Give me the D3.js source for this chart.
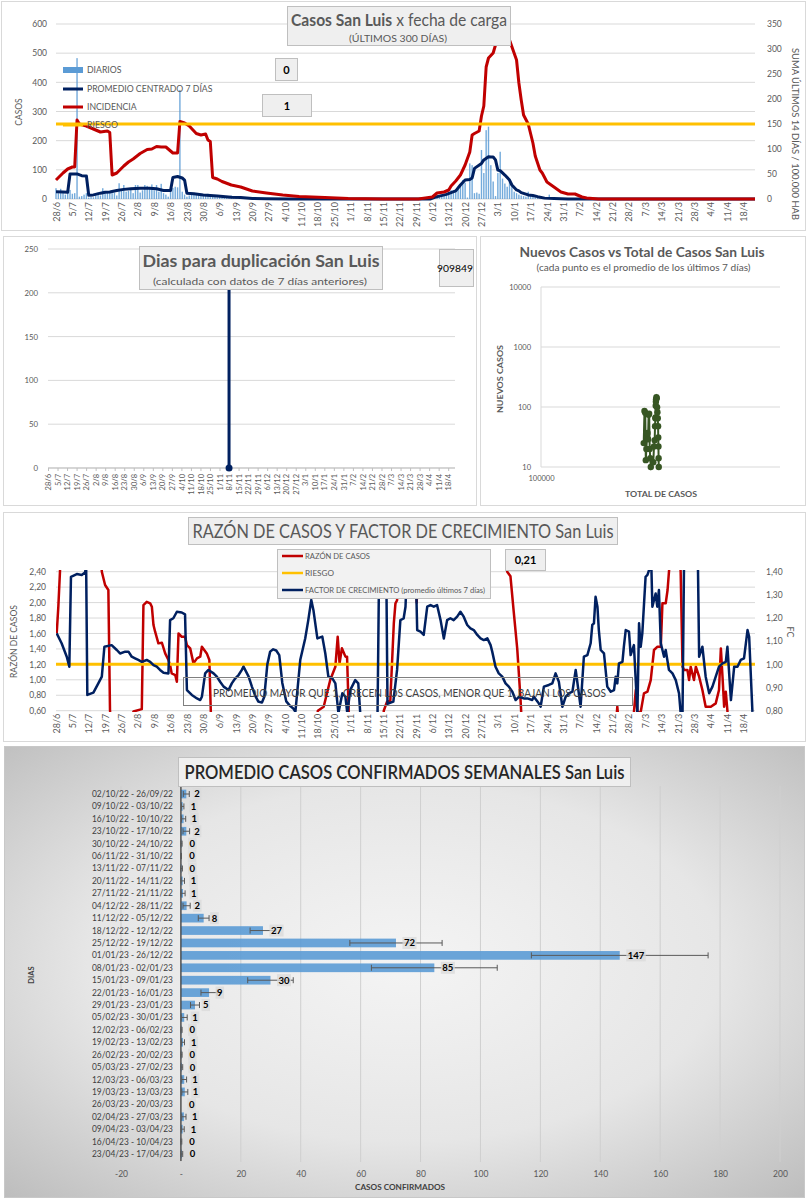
<!DOCTYPE html>
<html><head><meta charset="utf-8">
<script src="https://cdn.jsdelivr.net/npm/d3@7"></script>
<style>body{margin:0;background:#fff}svg{display:block}</style>
</head><body>
<svg id="c" width="807" height="1200"></svg>
<script>
// ---------------- DATA ----------------
const dateLabels = ["28/6","5/7","12/7","19/7","26/7","2/8","9/8","16/8","23/8","30/8","6/9","13/9","20/9","27/9","4/10","11/10","18/10","25/10","1/11","8/11","15/11","22/11","29/11","6/12","13/12","20/12","27/12","3/1","10/1","17/1","24/1","31/1","7/2","14/2","21/2","28/2","7/3","14/3","21/3","28/3","4/4","11/4","18/4"];
const topLeftTicks = [0,100,200,300,400,500,600];
const topRightTicks = [0,50,100,150,200,250,300,350];
const topLegend = ["DIARIOS","PROMEDIO CENTRADO 7 DÍAS","INCIDENCIA","RIESGO"];
// [day since 28/6, cases]
const diarios = [[0,37],[1,20],[2,35],[3,25],[4,15],[5,30],[6,31],[7,18],[8,20],[9,483],[10,8],[11,10],[12,15],[13,20],[14,5],[15,8],[16,6],[17,15],[18,22],[19,12],[20,37],[21,20],[22,25],[23,22],[24,20],[25,22],[26,12],[27,54],[28,30],[29,48],[30,25],[31,28],[32,35],[33,20],[34,48],[35,48],[36,22],[37,30],[38,48],[39,45],[40,35],[41,50],[42,30],[43,48],[44,25],[45,52],[46,20],[47,15],[48,8],[49,25],[50,38],[51,42],[52,40],[53,374],[54,25],[55,15],[56,8],[57,12],[58,15],[59,18],[60,14],[61,15],[62,18],[63,14],[64,12],[65,18],[66,10],[67,8],[68,8],[69,6],[70,8],[71,5],[72,4],[73,6],[74,4],[75,12],[76,3],[77,5],
[160,2],[161,3],[162,5],[163,8],[164,10],[165,12],[166,14],[167,20],[168,25],[169,30],[170,28],[171,25],[172,40],[173,48],[174,65],[175,56],[176,5],[177,122],[178,116],[179,20],[180,22],[181,18],[182,168],[183,89],[184,236],[185,248],[186,116],[187,60],[188,10],[189,89],[190,162],[191,70],[192,53],[193,42],[194,60],[195,45],[196,25],[197,20],[198,15],[199,12],[200,10],[201,8],[202,25],[203,15],[204,8],[205,6],[206,5],[207,4],[208,3],[209,3],[210,4],[211,15],[212,3],[213,2]];
const promedio = [[0,25],[3,24],[5,23],[6,86],[9,86],[11,80],[13,79],[14,13],[16,14],[19,20],[21,23],[23,24],[26,29],[29,33],[32,35],[36,37],[40,37],[43,35],[46,29],[49,29],[50,74],[52,77],[54,72],[55,65],[56,20],[59,18],[63,14],[69,10],[75,6],[79,5],[84,2],[90,1],[100,0],[160,0],[162,6],[164,10],[167,16],[169,22],[171,28],[173,48],[175,65],[177,67],[178,72],[179,105],[182,122],[183,134],[185,145],[186,144],[187,144],[188,134],[189,99],[190,97],[192,82],[194,65],[195,48],[197,31],[198,28],[199,22],[202,14],[204,12],[206,8],[209,3],[213,2],[219,0],[299,0]];
const incidencia = [[0,38],[3,52],[5,60],[7,64],[8,64],[9,158],[10,150],[13,146],[16,140],[19,134],[22,136],[23,133],[24,48],[26,52],[29,66],[31,74],[33,80],[36,91],[39,99],[41,100],[43,105],[45,104],[47,104],[48,100],[50,92],[52,92],[53,155],[55,152],[57,146],[60,131],[62,128],[64,130],[65,118],[66,115],[67,43],[69,40],[71,35],[75,28],[79,24],[84,16],[90,12],[97,8],[104,5],[115,3],[125,1],[140,0],[155,0],[161,4],[163,12],[166,14],[168,18],[169,26],[171,36],[173,48],[175,68],[177,94],[178,128],[179,131],[181,136],[182,166],[183,186],[184,264],[185,282],[187,292],[188,308],[190,325],[192,338],[194,318],[197,278],[198,232],[199,198],[200,168],[202,150],[204,112],[205,86],[207,58],[208,52],[210,34],[213,24],[216,14],[219,10],[222,10],[225,4],[227,2],[232,0],[299,0]];
const riesgoIncidencia = 150;
const boxCero = "0";
const boxUno = "1";

const dupTicks = [0,50,100,150,200,250];
const duplicacion = [[133,0],[134,909849]];
const dupUltimo = "909849";

const scatterTicks = [10,100,1000,10000];
const scatterTotal = [269000,271000,273000,274500,276000,277500,279000,280500,282000,283500,285000,286500,288000,295000,297000,299000,300000,301000,301500,302000,302500,303000,304000,305000,306000,307000,308000,309000,309500,310000,310500,311000];
const scatterNuevos = [25,86,80,13,20,30,37,29,74,77,20,14,10,12,22,28,48,65,67,105,122,134,145,140,99,82,65,48,31,22,14,10];

const razonTicks = [0.6,0.8,1.0,1.2,1.4,1.6,1.8,2.0,2.2,2.4];
const fcTicks = [0.8,0.9,1.0,1.1,1.2,1.3,1.4];
const razonRiesgo = 1.2;
const razonUltimo = "0,21";
const razonLegend = ["RAZÓN DE CASOS","RIESGO","FACTOR DE CRECIMIENTO (promedio últimos 7 días)"];
const razon = [[0.3,1.60],[1,1.947],[1.7,2.40],[2.2,2.8],[19,2.8],[19.6,2.40],[21,2.227],[22.4,2.163],[23.1,0.609],[23.5,0.4],[32.8,0.4],[33.1,0.59],[36.7,0.62],[37.4,1.968],[38.8,2.01],[40.3,1.99],[41,1.947],[41.7,1.709],[42.4,1.623],[43.8,1.472],[45.3,1.48],[46.7,1.342],[48.1,1.256],[48.8,1.191],[49.5,1.083],[51,1.062],[51.7,0.976],[52.4,1.60],[53.8,1.557],[55.2,1.557],[56,1.45],[57.4,1.407],[58.8,1.213],[60.3,1.278],[61.7,1.299],[62.4,1.429],[64.5,1.342],[65.6,1.256],[66.2,0.609],[66.5,0.4],[111.5,0.4],[112,0.6],[114.5,0.652],[117.3,0.997],[119.5,1.17],[120.5,1.558],[121.3,1.213],[122.3,1.41],[123.8,1.30],[124.5,1.30],[125.2,0.6],[125.5,0.4],[140,0.4],[140.2,0.6],[141.6,0.717],[143,0.727],[144.5,1.73],[145.2,1.99],[145.9,2.03],[146.5,2.6],[153.8,2.6],[154.3,2.0],[154.9,2.6],[192.5,2.6],[193,2.40],[194.4,2.34],[195.8,1.88],[197.3,1.40],[198.7,0.75],[199.3,0.4],[239.5,0.4],[240.1,0.652],[240.8,0.4],[247,0.4],[247.2,0.58],[248,0.868],[248.7,0.58],[250.1,0.58],[251.5,0.824],[253,0.846],[254.4,0.997],[255.8,1.386],[257.3,1.429],[258.7,1.429],[259.4,1.99],[260.8,1.99],[261.6,2.163],[262.2,2.40],[262.8,2.6],[266.8,2.6],[267.2,2.40],[268,1.17],[268.7,1.127],[270.1,1.127],[270.8,0.997],[271.5,1.17],[272.9,0.997],[273.7,1.17],[275.1,1.04],[276.5,0.868],[277.9,0.652],[280.1,0.652],[282.2,0.695],[283.6,0.868],[284.4,1.407],[285.1,1.04],[285.8,0.652],[286.5,0.846],[287.2,0.6],[287.6,0.4]];
const factor = [[0.3,1.134],[2.4,1.091],[4.6,1.033],[5.7,0.99],[6.4,1.378],[8.9,1.39],[11,1.386],[12.4,1.397],[12.9,1.42],[13.4,0.868],[16,0.878],[18.1,0.918],[19.6,0.947],[20.7,1.076],[23.8,1.083],[26,1.062],[27.4,1.047],[29.6,1.055],[31,1.055],[32.4,1.033],[33.8,1.026],[35.2,1.019],[36.7,1.011],[38.8,1.019],[40.3,1.011],[41.7,0.997],[43.1,0.99],[44.5,0.976],[46,0.964],[48.1,0.961],[48.8,1.191],[50.2,1.199],[51.7,1.227],[53.8,1.224],[55.2,1.216],[56,0.889],[58.1,0.868],[60.3,0.853],[61.7,0.846],[62.4,0.86],[63.8,0.961],[65.2,0.976],[67.4,0.961],[68.8,0.947],[70.2,0.925],[71.7,0.904],[73.8,0.889],[75.2,0.918],[76.7,0.94],[78.1,0.954],[79.5,0.976],[80.2,0.99],[82.4,0.947],[83.8,0.904],[85.2,0.865],[86.5,0.84],[88.1,0.835],[89.1,0.86],[90.4,1.0],[91.6,1.055],[92.9,1.065],[94.2,1.06],[95.5,1.04],[96.8,0.92],[98.5,0.84],[100.2,0.82],[101.5,0.81],[102.4,0.795],[104.5,1.02],[106.6,1.112],[107.9,1.19],[109.2,1.278],[110.1,1.235],[111.8,1.112],[113.9,1.12],[115.2,1.047],[116.5,0.947],[118.2,0.94],[119.5,0.918],[120.8,0.79],[122.5,0.875],[123.8,0.86],[124.6,0.79],[125.9,0.89],[128,0.932],[129.3,0.918],[130.2,0.78],[134,0.7],[137.5,0.75],[138.3,1.5],[141.2,1.5],[141.8,0.83],[144.3,0.839],[145.9,0.976],[147.3,1.191],[148.7,1.198],[149.5,1.249],[150.2,1.42],[153.8,1.45],[154.5,1.148],[155.9,1.141],[157.3,1.127],[158.8,1.249],[160.2,1.256],[161.6,1.249],[163,1.256],[164.5,1.191],[165.9,1.112],[167.3,1.191],[168.7,1.199],[170.1,1.191],[171.6,1.206],[173,1.227],[174.4,1.206],[175.9,1.17],[177.3,1.155],[178.7,1.148],[180.2,1.127],[181.6,1.112],[183,1.105],[184.5,1.112],[185.9,1.083],[186.6,1.055],[188,0.99],[189.4,0.961],[190.9,0.947],[192.3,0.918],[193.7,0.904],[195.2,0.882],[196.6,0.846],[198,0.86],[200.1,0.853],[201.6,0.853],[203.7,0.846],[204.4,0.86],[206.5,0.832],[207.3,0.817],[208.7,0.904],[210.8,0.911],[212.3,0.918],[213.7,0.961],[215.1,0.925],[216.6,0.817],[218,0.86],[219.4,0.875],[220.9,0.882],[222.3,0.976],[224.4,0.817],[225.8,1.033],[227.3,1.04],[228.7,1.091],[229.4,1.17],[230.1,1.177],[230.8,1.292],[231.6,1.249],[232.2,1.148],[233,1.062],[234.4,1.047],[235.8,0.904],[237.3,0.882],[238.7,0.889],[239.4,0.947],[240.1,0.918],[240.8,1.004],[242.3,1.011],[242.9,1.076],[243.7,1.148],[245.1,1.141],[245.8,1.04],[247.2,1.083],[248.7,0.79],[249.4,1.177],[250.1,1.076],[250.8,1.134],[252.2,1.378],[253,1.386],[254.1,1.42],[254.6,1.45],[255.1,1.249],[256.5,1.306],[257.2,1.249],[257.9,1.321],[258.7,1.091],[260.1,1.033],[260.8,1.062],[262.2,0.976],[263.7,0.961],[265.1,0.932],[266.5,0.875],[267.2,0.79],[268,0.79],[268.7,1.5],[274.5,1.5],[275.1,1.033],[276.5,1.076],[277.9,0.947],[279.4,0.875],[280.8,0.904],[282.2,0.947],[283.6,0.99],[285.1,1.004],[286.5,1.011],[287.2,1.076],[288.7,0.846],[290.1,0.99],[291.5,0.99],[292.9,1.019],[294.3,1.026],[295.8,1.148],[296.5,1.119],[297.9,0.795]];

const semanas = ["02/10/22 - 26/09/22","09/10/22 - 03/10/22","16/10/22 - 10/10/22","23/10/22 - 17/10/22","30/10/22 - 24/10/22","06/11/22 - 31/10/22","13/11/22 - 07/11/22","20/11/22 - 14/11/22","27/11/22 - 21/11/22","04/12/22 - 28/11/22","11/12/22 - 05/12/22","18/12/22 - 12/12/22","25/12/22 - 19/12/22","01/01/23 - 26/12/22","08/01/23 - 02/01/23","15/01/23 - 09/01/23","22/01/23 - 16/01/23","29/01/23 - 23/01/23","05/02/23 - 30/01/23","12/02/23 - 06/02/23","19/02/23 - 13/02/23","26/02/23 - 20/02/23","05/03/23 - 27/02/23","12/03/23 - 06/03/23","19/03/23 - 13/03/23","26/03/23 - 20/03/23","02/04/23 - 27/03/23","09/04/23 - 03/04/23","16/04/23 - 10/04/23","23/04/23 - 17/04/23"];
const promedioSemanal = [1.8,0.6,0.9,1.8,0.2,0.1,0.2,0.6,0.7,1.9,7.6,27.4,71.8,146.5,84.6,29.9,9.4,4.7,1.1,0.2,0.7,0.2,0.3,1.1,1.3,0.0,1.0,0.6,0.1,0.3];
const errorSemanal = [1.0,0.4,0.7,1.1,0.2,0.1,0.3,0.6,0.7,1.2,1.8,4.3,15.4,29.5,21.0,7.6,2.7,1.5,1.0,0.2,0.5,0.2,0.3,0.8,1.0,0.0,0.7,0.5,0.2,0.3];
const casosTicks = [-20,0,20,40,60,80,100,120,140,160,180,200];

// ---------------- HELPERS ----------------
const svg = d3.select("#c");
const FONT = "Lato, 'Open Sans', 'Liberation Sans', sans-serif";
const GREY = "#595959";
const NAVY = "#002060", RED = "#c00000", ORANGE = "#ffc000", BLUE = "#5b9bd5";
const comma = f => v => d3.format(f)(v).replace(".", ",");

function txt(g, x, y, s, o = {}) {
  const t = g.append("text").attr("x", x).attr("y", y).text(s)
    .style("font-family", FONT).style("font-size", (o.size || 9) + "px")
    .style("fill", o.fill || GREY).style("font-weight", o.weight || "normal")
    .attr("text-anchor", o.anchor || "start");
  if (o.rotate) t.attr("transform", `rotate(${o.rotate},${x},${y})`);
  if (o.len) t.attr("textLength", o.len).attr("lengthAdjust", "spacingAndGlyphs");
  return t;
}
function box(g, x, y, w, h, fill, stroke) {
  return g.append("rect").attr("x", x).attr("y", y).attr("width", w).attr("height", h)
    .attr("fill", fill || "#efefef").attr("stroke", stroke || "#bfbfbf").attr("stroke-width", 1);
}
function styleAxis(ax, size) {
  ax.select(".domain").remove();
  ax.selectAll("text").style("font-family", FONT).style("font-size", size + "px").style("fill", GREY);
}
function dateAxis(g, x, y, size, tick) {
  const ax = g.append("g").attr("transform", `translate(0,${y})`)
    .call(d3.axisBottom(x).tickValues(dateLabels.map((d, i) => i * 7))
      .tickFormat((d, i) => dateLabels[i]).tickSize(tick).tickSizeOuter(0));
  ax.select(".domain").remove();
  ax.selectAll("line").attr("stroke", "#bfbfbf");
  ax.selectAll("text").attr("transform", "rotate(-90)").attr("x", -(tick + 3)).attr("y", 0)
    .attr("dy", "0.35em").style("text-anchor", "end")
    .style("font-family", FONT).style("font-size", size + "px").style("fill", GREY);
  return ax;
}
function hGrid(g, vals, y, x0, x1, color) {
  g.append("g").selectAll("line").data(vals).join("line")
    .attr("x1", x0).attr("x2", x1).attr("y1", d => y(d)).attr("y2", d => y(d))
    .attr("stroke", color || "#d9d9d9").attr("stroke-width", 1);
}
const defs = svg.append("defs");
function clip(id, x, y, w, h) {
  defs.append("clipPath").attr("id", id).append("rect").attr("x", x).attr("y", y).attr("width", w).attr("height", h);
  return `url(#${id})`;
}

// ---------------- PANEL FRAMES ----------------
const rg = defs.append("radialGradient").attr("id", "bg5").attr("cx", "50%").attr("cy", "48%").attr("r", "72%");
rg.append("stop").attr("offset", "0%").attr("stop-color", "#f4f4f4");
rg.append("stop").attr("offset", "55%").attr("stop-color", "#e6e6e6");
rg.append("stop").attr("offset", "100%").attr("stop-color", "#bdbdbd");
box(svg, 1.5, 1.5, 804, 229, "#fff", "#d9d9d9");
box(svg, 3.5, 236.5, 473, 269, "#fff", "#d9d9d9");
box(svg, 480.5, 236.5, 325, 269, "#fff", "#d9d9d9");
box(svg, 3.5, 512.5, 802, 229, "#fff", "#d9d9d9");
box(svg, 4.5, 746.5, 800, 451, "url(#bg5)", "#c8c8c8");

// ---------------- PANEL 1: Casos ----------------
{
  const g = svg.append("g");
  const x = d3.scaleLinear().domain([0, 299]).range([56, 755]);
  const yL = d3.scaleLinear().domain([0, 600]).range([199, 24]);
  const yR = d3.scaleLinear().domain([0, 350]).range([199, 24]);
  hGrid(g, topLeftTicks, yL, 56, 755);
  styleAxis(g.append("g").attr("transform", "translate(56,0)")
    .call(d3.axisLeft(yL).tickValues(topLeftTicks).tickSize(0).tickPadding(9)), 8.5);
  styleAxis(g.append("g").attr("transform", "translate(755,0)")
    .call(d3.axisRight(yR).tickValues(topRightTicks).tickSize(0).tickPadding(12)), 8.5);
  dateAxis(g, x, 199, 9, 0);
  g.append("g").selectAll("rect").data(diarios).join("rect")
    .attr("x", d => x(d[0]) - 0.7).attr("width", 1.4)
    .attr("y", d => yL(d[1])).attr("height", d => yL(0) - yL(d[1]))
    .attr("fill", BLUE).attr("opacity", 0.85);
  g.append("path").datum(promedio).attr("fill", "none").attr("stroke", NAVY).attr("stroke-width", 3)
    .attr("stroke-linejoin", "round").attr("d", d3.line().x(d => x(d[0])).y(d => yL(d[1])));
  g.append("path").datum(incidencia).attr("fill", "none").attr("stroke", RED).attr("stroke-width", 3)
    .attr("stroke-linejoin", "round").attr("d", d3.line().x(d => x(d[0])).y(d => yR(d[1])));
  g.append("line").attr("x1", 56).attr("x2", 755).attr("y1", yR(riesgoIncidencia)).attr("y2", yR(riesgoIncidencia))
    .attr("stroke", ORANGE).attr("stroke-width", 3);
  // legend
  const ly = [70, 89, 107, 125];
  g.append("rect").attr("x", 63).attr("y", ly[0] - 3).attr("width", 20).attr("height", 6).attr("fill", BLUE);
  [NAVY, RED, ORANGE].forEach((c, i) => g.append("line").attr("x1", 63).attr("x2", 83)
    .attr("y1", ly[i + 1]).attr("y2", ly[i + 1]).attr("stroke", c).attr("stroke-width", 3));
  topLegend.forEach((s, i) => txt(g, 87, ly[i] + 3.2, s, { size: 8.7 }));
  txt(g, 22, 112, "CASOS", { size: 8.5, anchor: "middle", rotate: -90 });
  txt(g, 792, 134, "SUMA  ÚLTIMOS 14 DÍAS / 100.000 HAB", { size: 9, anchor: "middle", rotate: 90, len: 172 });
  box(g, 275.5, 58.5, 22, 22);
  txt(g, 286.5, 73.5, boxCero, { size: 11, weight: "bold", fill: "#000", anchor: "middle" });
  box(g, 262.5, 94.5, 49, 22);
  txt(g, 287, 109.5, boxUno, { size: 11, weight: "bold", fill: "#000", anchor: "middle" });
  box(g, 287.5, 6.5, 223, 39);
  const t = txt(g, 399, 26, "", { size: 17, anchor: "middle", len: 216 });
  t.append("tspan").style("font-weight", "bold").text("Casos San Luis");
  t.append("tspan").text(" x fecha de carga");
  txt(g, 398, 41.5, "(ÚLTIMOS 300 DÍAS)", { size: 10, anchor: "middle", len: 98 });
}

// ---------------- PANEL 2: Duplicación ----------------
{
  const g = svg.append("g");
  const x = d3.scaleLinear().domain([0, 299]).range([48, 455]);
  const y = d3.scaleLinear().domain([0, 250]).range([468, 249]);
  hGrid(g, dupTicks, y, 48, 455);
  styleAxis(g.append("g").attr("transform", "translate(48,0)")
    .call(d3.axisLeft(y).tickValues(dupTicks).tickSize(0).tickPadding(10)), 7.8);
  g.append("line").attr("x1", 48).attr("x2", 455).attr("y1", 468).attr("y2", 468).attr("stroke", "#bfbfbf");
  dateAxis(g, x, 468, 7.5, 3);
  const cp = clip("dupclip", 48, 249, 407, 222);
  g.append("path").datum(duplicacion).attr("clip-path", cp).attr("fill", "none").attr("stroke", NAVY)
    .attr("stroke-width", 3).attr("d", d3.line().x(d => x(d[0])).y(d => y(d[1])));
  g.append("circle").attr("cx", x(duplicacion[0][0])).attr("cy", y(duplicacion[0][1])).attr("r", 3.5).attr("fill", NAVY);
  box(g, 139.5, 246.5, 243, 43);
  txt(g, 261, 267, "Dias para duplicación San Luis", { size: 17, weight: "bold", anchor: "middle", len: 237 });
  txt(g, 260, 284.5, "(calculada con datos de 7 días anteriores)", { size: 10, anchor: "middle", len: 214 });
  box(g, 439.5, 249.5, 34, 37);
  txt(g, 455, 271.5, dupUltimo, { size: 10.3, fill: "#000", anchor: "middle" });
}

// ---------------- PANEL 3: Nuevos vs Total ----------------
{
  const g = svg.append("g");
  const x = d3.scaleLog().domain([1e5, 1e6]).range([541, 780]);
  const y = d3.scaleLog().domain([10, 10000]).range([467, 287]);
  hGrid(g, scatterTicks, y, 541, 780);
  g.append("line").attr("x1", 541).attr("x2", 541).attr("y1", 287).attr("y2", 467).attr("stroke", "#d9d9d9");
  styleAxis(g.append("g").attr("transform", "translate(541,0)")
    .call(d3.axisLeft(y).tickValues(scatterTicks).tickFormat(d3.format("d")).tickSize(0).tickPadding(10)), 7.5);
  styleAxis(g.append("g").attr("transform", "translate(0,467)")
    .call(d3.axisBottom(x).tickValues([1e5]).tickFormat(d3.format("d")).tickSize(0).tickPadding(9)), 7.5);
  const pts = scatterTotal.map((t, i) => [t, scatterNuevos[i]]);
  g.append("path").datum(pts).attr("fill", "none").attr("stroke", "#375623").attr("stroke-width", 2)
    .attr("d", d3.line().x(d => x(d[0])).y(d => y(d[1])));
  g.append("g").selectAll("circle").data(pts).join("circle")
    .attr("cx", d => x(d[0])).attr("cy", d => y(d[1])).attr("r", 3.2).attr("fill", "#375623");
  txt(g, 642, 256.5, "Nuevos Casos vs Total de Casos San Luis", { size: 13, weight: "bold", anchor: "middle", len: 245 });
  txt(g, 643.5, 270.5, "(cada punto es el promedio de los últimos 7 días)", { size: 9, anchor: "middle", len: 214 });
  txt(g, 661, 497, "TOTAL DE CASOS", { size: 8, weight: "bold", anchor: "middle", len: 72 });
  txt(g, 503, 379, "NUEVOS CASOS", { size: 8, weight: "bold", anchor: "middle", rotate: -90, len: 68 });
}

// ---------------- PANEL 4: Razón / Factor ----------------
{
  const g = svg.append("g");
  const x = d3.scaleLinear().domain([0, 299]).range([56, 755]);
  const yL = d3.scaleLinear().domain([0.6, 2.4]).range([710.7, 571.7]);
  const yR = d3.scaleLinear().domain([0.8, 1.4]).range([710.7, 571.7]);
  hGrid(g, razonTicks, yL, 56, 755);
  styleAxis(g.append("g").attr("transform", "translate(56,0)")
    .call(d3.axisLeft(yL).tickValues(razonTicks).tickFormat(comma(".2f")).tickSize(0).tickPadding(10)), 8.5);
  styleAxis(g.append("g").attr("transform", "translate(755,0)")
    .call(d3.axisRight(yR).tickValues(fcTicks).tickFormat(comma(".2f")).tickSize(0).tickPadding(11)), 8.5);
  dateAxis(g, x, 710.7, 9, 0);
  const cp = clip("rzclip", 56, 570, 699, 142);
  g.append("path").datum(razon).attr("clip-path", cp).attr("fill", "none").attr("stroke", RED).attr("stroke-width", 2.5)
    .attr("stroke-linejoin", "round").attr("d", d3.line().x(d => x(d[0])).y(d => yL(d[1])));
  g.append("line").attr("x1", 56).attr("x2", 755).attr("y1", yL(razonRiesgo)).attr("y2", yL(razonRiesgo))
    .attr("stroke", ORANGE).attr("stroke-width", 3);
  g.append("path").datum(factor).attr("clip-path", cp).attr("fill", "none").attr("stroke", NAVY).attr("stroke-width", 2.5)
    .attr("stroke-linejoin", "round").attr("d", d3.line().x(d => x(d[0])).y(d => yR(d[1])));
  // note box
  g.append("rect").attr("x", 183.5).attr("y", 677.5).attr("width", 449).attr("height", 28)
    .attr("fill", "none").attr("stroke", "#7f7f7f");
  txt(g, 213, 697, "PROMEDIO MAYOR QUE 1, CRECEN LOS CASOS, MENOR QUE 1, BAJAN LOS CASOS", { size: 11.5, fill: "#404040", len: 393 });
  // legend
  box(g, 277.5, 549.5, 213, 49, "#f2f2f2");
  const ly = [556, 573, 590];
  [RED, ORANGE, NAVY].forEach((c, i) => g.append("line").attr("x1", 282).attr("x2", 303)
    .attr("y1", ly[i]).attr("y2", ly[i]).attr("stroke", c).attr("stroke-width", 2.5));
  txt(g, 305, ly[0] + 2.5, razonLegend[0], { size: 7.2, len: 65 });
  txt(g, 305, ly[1] + 2.5, razonLegend[1], { size: 7.2, len: 29 });
  txt(g, 305, ly[2] + 2.5, razonLegend[2], { size: 7.2, len: 180 });
  box(g, 505.5, 549.5, 40, 21);
  txt(g, 525.5, 564, razonUltimo, { size: 11, weight: "bold", fill: "#000", anchor: "middle" });
  box(g, 188.5, 517.5, 429, 27);
  txt(g, 403, 537.5, "RAZÓN DE CASOS Y FACTOR DE CRECIMIENTO San Luis", { size: 19, anchor: "middle", len: 421 });
  txt(g, 17, 641.5, "RAZÓN DE CASOS", { size: 9, anchor: "middle", rotate: -90, len: 73 });
  txt(g, 787, 632, "FC", { size: 9, anchor: "middle", rotate: 90 });
}

// ---------------- PANEL 5: Promedio semanal ----------------
{
  const g = svg.append("g");
  const x = d3.scaleLinear().domain([-20, 200]).range([121, 780]);
  const y = d3.scaleBand().domain(semanas).range([787.8, 1160.2]).paddingInner(0.3).paddingOuter(0.15);
  g.append("g").selectAll("line").data(casosTicks).join("line")
    .attr("x1", d => x(d)).attr("x2", d => x(d)).attr("y1", 786).attr("y2", 1162)
    .attr("stroke", "#cfcfcf").attr("stroke-width", 1);
  const ax = g.append("g").attr("transform", "translate(0,1162)")
    .call(d3.axisBottom(x).tickValues(casosTicks).tickFormat(d => d === 0 ? "-" : d).tickSize(0).tickPadding(9));
  styleAxis(ax, 8.5);
  g.append("g").selectAll("text").data(semanas).join("text")
    .attr("x", 173).attr("y", d => y(d) + y.bandwidth() / 2 + 3).attr("text-anchor", "end")
    .attr("textLength", 81).attr("lengthAdjust", "spacingAndGlyphs")
    .style("font-family", FONT).style("font-size", "8.6px").style("fill", "#404040").text(d => d);
  const rows = semanas.map((s, i) => ({ s, v: promedioSemanal[i], e: errorSemanal[i] }));
  g.append("g").selectAll("rect").data(rows).join("rect")
    .attr("x", x(0)).attr("y", d => y(d.s)).attr("height", y.bandwidth())
    .attr("width", d => x(d.v) - x(0)).attr("fill", BLUE).attr("opacity", 0.9);
  g.append("line").attr("x1", x(0)).attr("x2", x(0)).attr("y1", 786).attr("y2", 1161)
    .attr("stroke", "#404040").attr("stroke-width", 1.3);
  const eb = g.append("g").attr("stroke", "#595959").attr("stroke-width", 1);
  rows.forEach(d => {
    if (d.e <= 0) return;
    const cy = y(d.s) + y.bandwidth() / 2;
    eb.append("line").attr("x1", x(d.v - d.e)).attr("x2", x(d.v + d.e)).attr("y1", cy).attr("y2", cy);
    [d.v - d.e, d.v + d.e].forEach(v => eb.append("line").attr("x1", x(v)).attr("x2", x(v)).attr("y1", cy - 3).attr("y2", cy + 3));
  });
  const lg = g.append("g");
  rows.forEach(d => {
    const cy = y(d.s) + y.bandwidth() / 2;
    const bg = lg.append("rect");
    const t = txt(lg, x(d.v) + 8, cy + 3.4, String(Math.round(d.v)), { size: 9.5, weight: "bold", fill: "#000" });
    const w = t.node().getComputedTextLength();
    bg.attr("x", x(d.v) + 6.5).attr("y", cy - 6).attr("width", w + 3).attr("height", 12)
      .attr("fill", "#d9d9d9").attr("opacity", 0.75);
  });
  box(g, 178.5, 757.5, 452, 29, "#efefef", "#bfbfbf");
  txt(g, 404.5, 778.5, "PROMEDIO CASOS CONFIRMADOS SEMANALES San Luis", { size: 19, weight: "600", fill: "#262626", anchor: "middle", len: 440 });
  txt(g, 34, 975, "DIAS", { size: 7.5, weight: "bold", fill: "#404040", anchor: "middle", rotate: -90 });
  txt(g, 400, 1190, "CASOS CONFIRMADOS", { size: 8, weight: "bold", fill: "#404040", anchor: "middle", len: 90 });
}
</script>
</body></html>
